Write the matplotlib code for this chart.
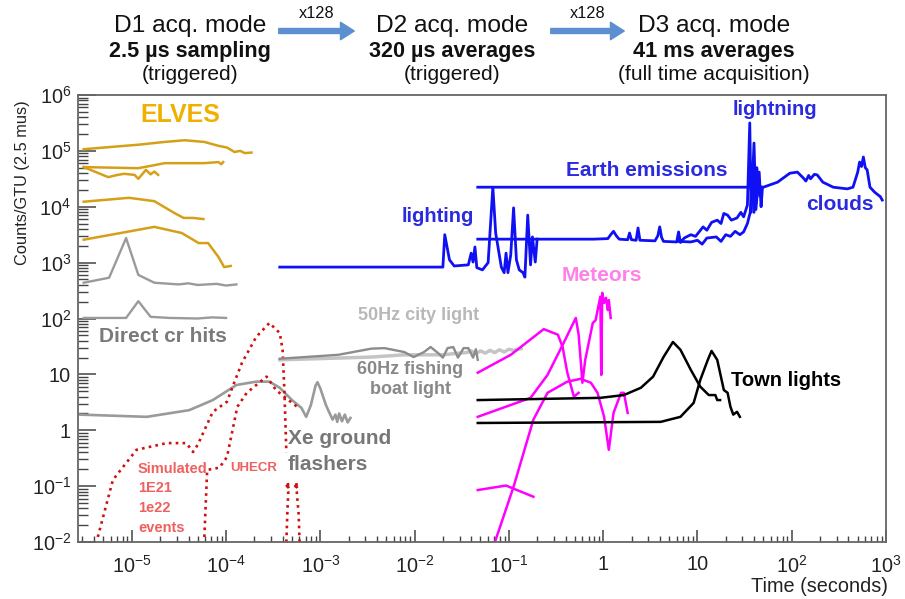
import numpy as np
import matplotlib
matplotlib.use('Agg')
import matplotlib.pyplot as plt
from matplotlib import font_manager
from matplotlib.patches import FancyArrowPatch
from matplotlib.ticker import FixedLocator, FixedFormatter, LogLocator, NullFormatter

W, H = 905, 599

# every curve is stored as (log10 time [s], log10 counts/GTU)
elve1_t = [-5.51, -4.93, -4.65, -4.44, -4.23, -4.08, -3.99, -3.91, -3.85, -3.80, -3.73]
elve1_v = [5.03, 5.11, 5.16, 5.19, 5.16, 5.09, 5.06, 4.98, 5.00, 4.96, 4.97]
elve2_t = [-5.51, -4.93, -4.65, -4.23, -4.08, -4.05, -4.03]
elve2_v = [4.71, 4.69, 4.78, 4.78, 4.80, 4.76, 4.80]
elve3_t = [-5.51, -5.35, -5.25, -5.15, -5.08, -4.97, -4.93, -4.88, -4.85, -4.80, -4.76, -4.72]
elve3_v = [4.71, 4.60, 4.53, 4.57, 4.59, 4.57, 4.50, 4.60, 4.66, 4.58, 4.63, 4.57]
elve4_t = [-5.51, -5.03, -4.76, -4.55, -4.45, -4.35, -4.24]
elve4_v = [4.09, 4.16, 4.10, 3.89, 3.80, 3.80, 3.78]
elve5_t = [-5.51, -4.76, -4.47, -4.29, -4.19, -4.08, -4.02, -3.95]
elve5_v = [3.41, 3.64, 3.53, 3.35, 3.35, 3.10, 2.92, 2.94]

cr1_t = [-5.51, -5.24, -5.06, -4.93, -4.76, -4.50, -4.40, -4.30, -4.10, -4.00, -3.89]
cr1_v = [2.64, 2.73, 3.44, 2.78, 2.64, 2.61, 2.63, 2.60, 2.62, 2.59, 2.61]
cr2_t = [-5.51, -5.06, -4.93, -4.80, -4.60, -4.30, -4.15, -4.00]
cr2_v = [2.01, 2.01, 2.31, 2.03, 2.01, 2.00, 2.02, 2.01]

xe_t = [-5.55, -4.84, -4.39, -4.14, -3.89, -3.68, -3.54, -3.43, -3.30, -3.20, -3.15, -3.10,
        -3.05, -3.03, -3.00, -2.97, -2.94, -2.90, -2.87, -2.84, -2.82, -2.80, -2.77, -2.74,
        -2.71, -2.68]
xe_v = [0.28, 0.24, 0.36, 0.54, 0.81, 0.87, 0.87, 0.76, 0.54, 0.40, 0.24, 0.45,
        0.80, 0.86, 0.75, 0.60, 0.45, 0.30, 0.19, 0.28, 0.15, 0.30, 0.16, 0.28,
        0.14, 0.22]

uhecr1_t = [-5.36, -5.20, -4.95, -4.63, -4.42, -4.35, -4.30, -4.14, -3.99, -3.93, -3.83,
            -3.68, -3.54, -3.43, -3.40, -3.38, -3.36]
uhecr1_v = [-1.91, -0.89, -0.35, -0.23, -0.23, -0.39, -0.26, 0.33, 0.51, 0.78, 1.21,
            1.67, 1.92, 1.74, 1.44, 0.67, -0.40]
uhecr2_t = [-4.23, -4.20, -4.07, -3.99, -3.93, -3.88, -3.78, -3.65, -3.57, -3.47, -3.30, -3.23]
uhecr2_v = [-1.91, -0.71, -0.67, -0.48, 0.01, 0.42, 0.67, 0.85, 0.96, 0.72, 0.49, 0.40]
uhecr3_t = [-3.36, -3.35, -3.34, -3.36, -3.33, -3.35]
uhecr3_v = [-2.00, -1.50, -1.10, -0.95, -1.05, -0.92]
uhecr4_t = [-3.22, -3.23, -3.25, -3.27, -3.24, -3.26]
uhecr4_v = [-2.00, -1.50, -1.10, -0.95, -1.05, -0.92]

city50_t = [-3.43, -2.46, -2.11, -1.70, -1.59, -1.45, -1.40, -1.35, -1.30, -1.25, -1.20,
            -1.15, -1.10, -1.05, -1.00, -0.95, -0.87]
city50_v = [1.26, 1.31, 1.35, 1.35, 1.37, 1.39, 1.42, 1.37, 1.42, 1.38, 1.43,
            1.39, 1.44, 1.40, 1.45, 1.43, 1.46]
boat60_t = [-3.43, -2.81, -2.46, -2.32, -2.11, -2.01, -1.90, -1.83, -1.75, -1.70, -1.65,
            -1.59, -1.54, -1.48, -1.43, -1.38, -1.35, -1.33]
boat60_v = [1.28, 1.35, 1.46, 1.47, 1.40, 1.31, 1.40, 1.49, 1.38, 1.30, 1.47,
            1.49, 1.30, 1.47, 1.47, 1.30, 1.45, 1.26]

d2_t = [-3.43, -1.70, -1.68, -1.63, -1.58, -1.43, -1.40, -1.38, -1.36, -1.34, -1.28, -1.22,
        -1.17, -1.14, -1.08, -1.05, -1.03, -1.01, -0.98, -0.95, -0.92, -0.89, -0.85, -0.83,
        -0.80, -0.77, -0.75, -0.72, -0.70]
d2_v = [2.92, 2.92, 3.50, 3.05, 2.94, 2.96, 3.17, 3.01, 3.28, 2.91, 2.87, 3.00,
        4.35, 3.53, 2.92, 2.82, 3.17, 2.82, 3.14, 3.98, 3.05, 2.87, 2.82, 2.74,
        3.85, 2.96, 3.46, 3.01, 3.42]

earth_t = [-1.33, 1.70, 1.85, 1.98, 2.06, 2.12, 2.15, 2.18, 2.20, 2.24, 2.27, 2.33, 2.44,
           2.59, 2.65, 2.70, 2.72, 2.74, 2.76, 2.78, 2.80, 2.83, 2.88, 2.91, 2.94, 2.96]
earth_v = [4.35, 4.35, 4.44, 4.60, 4.62, 4.52, 4.46, 4.56, 4.50, 4.58, 4.57, 4.44, 4.35,
           4.32, 4.35, 4.62, 4.80, 4.72, 4.89, 4.70, 4.66, 4.35, 4.26, 4.22, 4.18, 4.12]

d3a_t = [-1.33, -0.10, 0.05, 0.08, 0.11, 0.14, 0.17, 0.26, 0.28, 0.30, 0.35, 0.37, 0.39,
         0.55, 0.58, 0.60, 0.62, 0.64, 0.78, 0.80, 0.82, 0.86, 0.93, 0.98, 1.06, 1.10,
         1.15, 1.21, 1.25, 1.28, 1.32, 1.36, 1.42, 1.46, 1.49, 1.53, 1.555, 1.57, 1.60,
         1.62, 1.655, 1.675, 1.69]
d3a_v = [3.42, 3.42, 3.43, 3.50, 3.56, 3.48, 3.42, 3.41, 3.53, 3.41, 3.40, 3.62, 3.40,
         3.39, 3.48, 3.64, 3.45, 3.38, 3.37, 3.55, 3.36, 3.44, 3.50, 3.47, 3.64, 3.58,
         3.72, 3.76, 3.70, 3.88, 3.85, 3.76, 3.80, 3.90, 3.82, 4.03, 5.50, 3.90, 5.14,
         3.95, 4.62, 4.00, 4.35]
d3b_t = [0.80, 0.93, 1.00, 1.05, 1.10, 1.20, 1.25, 1.30, 1.35, 1.40, 1.45, 1.49, 1.53,
         1.56, 1.58, 1.60, 1.63, 1.66]
d3b_v = [3.38, 3.37, 3.40, 3.33, 3.44, 3.46, 3.38, 3.50, 3.47, 3.56, 3.50, 3.55, 3.70,
         3.90, 4.50, 3.90, 4.70, 4.20]

met1_t = [-1.33, -0.98, -0.63, -0.48, -0.43, -0.38, -0.31, -0.26]
met1_v = [1.03, 1.35, 1.81, 1.71, 1.49, 1.03, 0.60, 0.67]
met2_t = [-1.33, -0.77, -0.59, -0.42, -0.29, -0.26, -0.22, -0.19, -0.11, -0.08, -0.03,
          -0.02, -0.01, 0.01, 0.03, 0.05, 0.06, 0.08]
met2_v = [0.24, 0.58, 0.99, 1.56, 2.01, 1.71, 0.85, 1.26, 1.92, 1.97, 2.39,
          0.99, 2.46, 2.28, 2.37, 2.15, 2.33, 2.01]
met3_t = [-1.14, -0.95, -0.74, -0.59, -0.38, -0.24, -0.13, -0.06, 0.01, 0.06, 0.11, 0.19,
          0.22, 0.26]
met3_v = [-1.96, -1.01, 0.19, 0.67, 0.87, 0.92, 0.85, 0.67, 0.24, -0.35, 0.31, 0.67,
          0.67, 0.31]
met4_t = [-1.33, -1.03, -0.74]
met4_v = [-1.07, -0.99, -1.19]

town1_t = [-1.33, -0.03, 0.22, 0.40, 0.53, 0.64, 0.74, 0.82, 0.93, 1.03, 1.12, 1.19, 1.21, 1.24]
town1_v = [0.54, 0.58, 0.63, 0.76, 0.96, 1.31, 1.58, 1.44, 1.08, 0.78, 0.63, 0.63, 0.54, 0.54]
town2_t = [-1.33, 0.61, 0.82, 0.96, 1.03, 1.11, 1.15, 1.21, 1.28, 1.32, 1.35, 1.38, 1.42, 1.45]
town2_v = [0.13, 0.15, 0.24, 0.49, 0.90, 1.26, 1.42, 1.26, 0.72, 0.67, 0.42, 0.28, 0.33, 0.24]

x_ticks = [1e-5, 1e-4, 1e-3, 1e-2, 1e-1, 1, 10, 1e2, 1e3]
x_labels = [r'$\mathregular{10^{-5}}$', r'$\mathregular{10^{-4}}$', r'$\mathregular{10^{-3}}$',
            r'$\mathregular{10^{-2}}$', r'$\mathregular{10^{-1}}$', '1', '10',
            r'$\mathregular{10^{2}}$', r'$\mathregular{10^{3}}$']
y_ticks = [1e-2, 1e-1, 1, 10, 1e2, 1e3, 1e4, 1e5, 1e6]
y_labels = [r'$\mathregular{10^{-2}}$', r'$\mathregular{10^{-1}}$', '1', '10',
            r'$\mathregular{10^{2}}$', r'$\mathregular{10^{3}}$', r'$\mathregular{10^{4}}$',
            r'$\mathregular{10^{5}}$', r'$\mathregular{10^{6}}$']

GOLD = '#d4a017'
BLUE = '#1010f5'
BLUE_TXT = '#2a2ae0'
MAG = '#ff00ff'
RED = '#d01010'

installed = {f.name for f in font_manager.fontManager.ttflist}
HAS_NARROW = 'Liberation Sans Narrow' in installed
NARROW = ['Liberation Sans Narrow', 'Liberation Sans'] if HAS_NARROW else ['Liberation Sans']
k = 1.0 if HAS_NARROW else 0.84

plt.rcParams['font.family'] = ['Liberation Sans', 'DejaVu Sans']


def pts(lt, lv):
    return 10.0 ** np.array(lt), 10.0 ** np.array(lv)


def ftext(fig, px, py, s, **kw):
    fig.text(px / W, 1 - py / H, s, **kw)


fig = plt.figure(figsize=(W / 100, H / 100), dpi=100)
ax = fig.add_axes([78 / W, 1 - 542 / H, (886 - 78) / W, (542 - 95) / H])
ax.set_xscale('log')
ax.set_yscale('log')
ax.set_xlim(10 ** -5.57, 1e3)
ax.set_ylim(1e-2, 1e6)

# D1 mode curves
for t, v in [(elve1_t, elve1_v), (elve2_t, elve2_v), (elve3_t, elve3_v),
             (elve4_t, elve4_v), (elve5_t, elve5_v)]:
    ax.plot(*pts(t, v), color=GOLD, lw=1.8)
for t, v in [(cr1_t, cr1_v), (cr2_t, cr2_v)]:
    ax.plot(*pts(t, v), color='#9a9a9a', lw=1.7)
ax.plot(*pts(xe_t, xe_v), color='#9a9a9a', lw=1.9)
for t, v in [(uhecr1_t, uhecr1_v), (uhecr2_t, uhecr2_v), (uhecr3_t, uhecr3_v),
             (uhecr4_t, uhecr4_v)]:
    ax.plot(*pts(t, v), color=RED, lw=1.9, ls=(0, (1, 1.6)))

# D2 mode curves
ax.plot(*pts(city50_t, city50_v), color='#c4c4c4', lw=2.5)
ax.plot(*pts(boat60_t, boat60_v), color='#8c8c8c', lw=1.7)
ax.plot(*pts(d2_t, d2_v), color=BLUE, lw=2.0)

# D3 mode curves
ax.plot(*pts(earth_t, earth_v), color=BLUE, lw=2.0)
ax.plot(*pts(d3a_t, d3a_v), color=BLUE, lw=2.0)
ax.plot(*pts(d3b_t, d3b_v), color=BLUE, lw=2.0)
for t, v in [(met1_t, met1_v), (met2_t, met2_v), (met3_t, met3_v), (met4_t, met4_v)]:
    ax.plot(*pts(t, v), color=MAG, lw=1.8)
for t, v in [(town1_t, town1_v), (town2_t, town2_v)]:
    ax.plot(*pts(t, v), color='black', lw=1.8)

# axes styling (ROOT-like)
for sp in ax.spines.values():
    sp.set_color('#666666')
    sp.set_linewidth(1.3)
ax.xaxis.set_major_locator(FixedLocator(x_ticks))
ax.xaxis.set_major_formatter(FixedFormatter(x_labels))
ax.yaxis.set_major_locator(FixedLocator(y_ticks))
ax.yaxis.set_major_formatter(FixedFormatter(y_labels))
ax.xaxis.set_minor_locator(LogLocator(base=10, subs=np.arange(2, 10), numticks=20))
ax.yaxis.set_minor_locator(LogLocator(base=10, subs=np.arange(2, 10), numticks=20))
ax.xaxis.set_minor_formatter(NullFormatter())
ax.yaxis.set_minor_formatter(NullFormatter())
ax.tick_params(axis='x', which='major', direction='in', length=9, width=1.1, color='#444444',
               pad=9, labelsize=17 * k, labelcolor='#222222', labelfontfamily=NARROW)
ax.tick_params(axis='x', which='minor', direction='in', length=4.5, width=1.0, color='#444444')
ax.tick_params(axis='y', which='major', direction='in', length=13, width=1.1, color='#444444',
               pad=5, labelsize=17 * k, labelcolor='#222222', labelfontfamily=NARROW)
ax.tick_params(axis='y', which='minor', direction='in', length=7, width=1.0, color='#444444')

# labels inside the plot
ftext(fig, 180, 115, 'ELVES', color='#f0b000', fontsize=18, fontweight='bold', ha='center', va='center')
ftext(fig, 163, 337, 'Direct cr hits', color='#7a7a7a', fontsize=15, fontweight='bold', ha='center', va='center')
ftext(fig, 138, 469, 'Simulated', color='#f06060', fontsize=10.5, fontweight='bold', va='center')
ftext(fig, 230, 468, 'UHECR', color='#f06060', fontsize=9.5, fontweight='bold', va='center')
ftext(fig, 138, 488, '1E21', color='#f06060', fontsize=10.5, fontweight='bold', va='center')
ftext(fig, 138, 508, '1e22', color='#f06060', fontsize=10.5, fontweight='bold', va='center')
ftext(fig, 138, 528, 'events', color='#f06060', fontsize=10.5, fontweight='bold', va='center')
ftext(fig, 288, 439, 'Xe ground', color='#777777', fontsize=15, fontweight='bold', va='center')
ftext(fig, 288, 465, 'flashers', color='#777777', fontsize=15, fontweight='bold', va='center')
ftext(fig, 419, 316, '50Hz city light', color='#b8b8b8', fontsize=13, fontweight='bold', ha='center', va='center')
ftext(fig, 410, 370, '60Hz fishing', color='#888888', fontsize=13, fontweight='bold', ha='center', va='center')
ftext(fig, 411, 390, 'boat light', color='#888888', fontsize=13, fontweight='bold', ha='center', va='center')
ftext(fig, 438, 217, 'lighting', color=BLUE_TXT, fontsize=14.5, fontweight='bold', ha='center', va='center')
ftext(fig, 647, 170, 'Earth emissions', color=BLUE_TXT, fontsize=15, fontweight='bold', ha='center', va='center')
ftext(fig, 775, 110, 'lightning', color=BLUE_TXT, fontsize=14.5, fontweight='bold', ha='center', va='center')
ftext(fig, 840, 205, 'clouds', color=BLUE_TXT, fontsize=15, fontweight='bold', ha='center', va='center')
ftext(fig, 602, 276, 'Meteors', color='#ff80e8', fontsize=15, fontweight='bold', ha='center', va='center')
ftext(fig, 786, 380, 'Town lights', color='black', fontsize=14.5, fontweight='bold', ha='center', va='center')

# axis titles
ftext(fig, 22, 183, 'Counts/GTU (2.5 mus)', rotation=90, fontsize=14 * k, family=NARROW,
      color='#222222', ha='center', va='center')
ftext(fig, 888, 587, 'Time (seconds)', fontsize=17 * k, family=NARROW, color='#222222',
      ha='right', va='center')

# acquisition mode header
modes = [(190, 'D1 acq. mode', '2.5 µs sampling', '(triggered)'),
         (452, 'D2 acq. mode', '320 µs averages', '(triggered)'),
         (714, 'D3 acq. mode', '41 ms averages', '(full time acquisition)')]
for cx, l1, l2, l3 in modes:
    ftext(fig, cx, 26, l1, fontsize=21 * k, family=NARROW, ha='center', va='center', color='#111111')
    ftext(fig, cx, 51, l2, fontsize=18.5 * k, family=NARROW, fontweight='bold', ha='center', va='center', color='#111111')
    ftext(fig, cx, 74, l3, fontsize=18 * k, family=NARROW, ha='center', va='center', color='#111111')

for x0, x1 in [(276, 357), (548, 627)]:
    arr = FancyArrowPatch((x0 / W, 1 - 31 / H), (x1 / W, 1 - 31 / H), transform=fig.transFigure,
                          arrowstyle='simple,head_length=0.55,head_width=0.7,tail_width=0.2',
                          mutation_scale=18, color='#5b8fd0')
    fig.add_artist(arr)
    ftext(fig, (x0 + x1) / 2, 14, 'x128', fontsize=14 * k, family=NARROW, ha='center', va='center', color='#111111')

fig.savefig('out.png', dpi=100)
